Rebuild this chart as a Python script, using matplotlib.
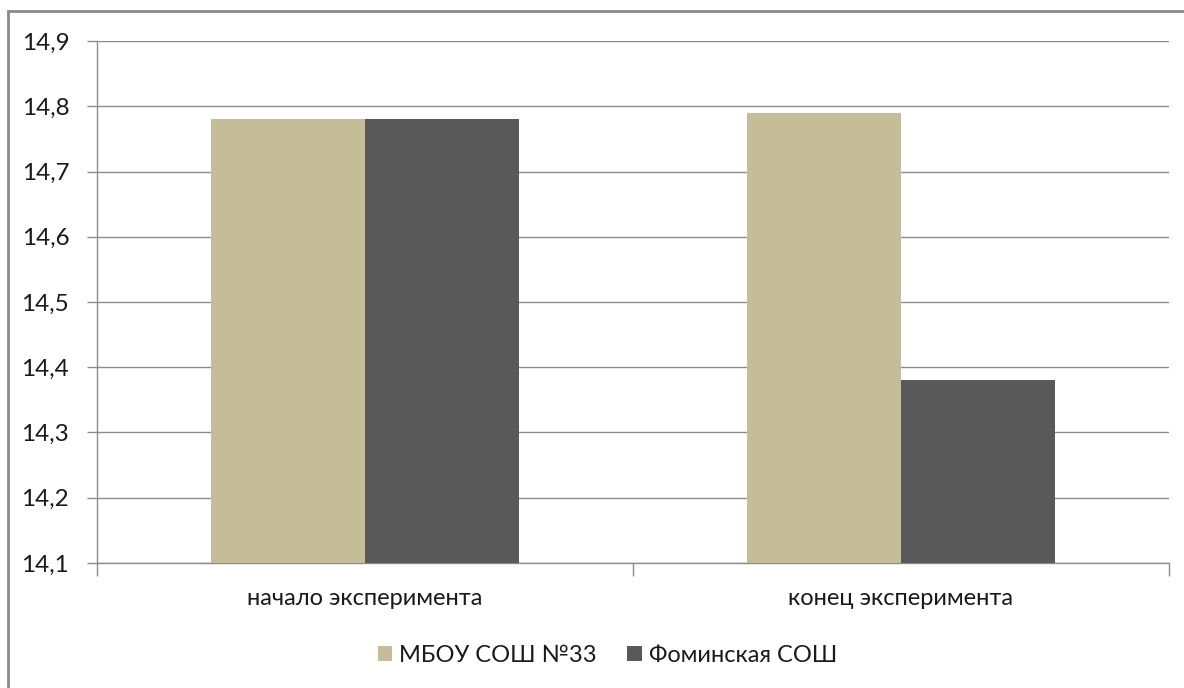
import matplotlib.pyplot as plt
import numpy as np
from matplotlib.patches import Rectangle
from matplotlib.ticker import FixedLocator, FuncFormatter

categories = ["начало эксперимента", "конец эксперимента"]
series_names = ["МБОУ СОШ №33", "Фоминская СОШ"]
school33 = [14.78, 14.79]
fominskaya = [14.78, 14.38]
y_ticks = [14.1, 14.2, 14.3, 14.4, 14.5, 14.6, 14.7, 14.8, 14.9]

colors = ["#c4bd97", "#595959"]
grid_color = "#8c8c8c"
text_color = "#1a1a1a"

plt.rcParams["font.family"] = ["Lato", "DejaVu Sans"]

W, H = 1184, 688
fig = plt.figure(figsize=(W / 100, H / 100), dpi=100)
fig.patch.set_facecolor("white")

# chart-area border (only top and left edges visible in the frame)
fig.patches.append(Rectangle((8 / W, -0.05), 1.1, 1 - 11 / H + 0.05,
                             transform=fig.transFigure, fill=False,
                             edgecolor="#8a8a8a", linewidth=2.0))

left, right, top, bottom = 97, 1169, 41, 563
ax = fig.add_axes([left / W, 1 - bottom / H, (right - left) / W, (bottom - top) / H])

x = np.arange(len(categories))
width = 0.2866
base = y_ticks[0]
ax.bar(x - width / 2, np.array(school33) - base, width, bottom=base,
       color=colors[0], label=series_names[0], zorder=3)
ax.bar(x + width / 2, np.array(fominskaya) - base, width, bottom=base,
       color=colors[1], label=series_names[1], zorder=3)

ax.set_xlim(-0.5, len(categories) - 0.5)
ax.set_ylim(y_ticks[0], y_ticks[-1])
ax.yaxis.set_major_locator(FixedLocator(y_ticks))
ax.yaxis.set_major_formatter(FuncFormatter(lambda v, _: f"{v:.1f}".replace(".", ",")))
ax.grid(axis="y", color=grid_color, linewidth=1.0, zorder=0)

# category labels centred, tick marks on the category boundaries
ax.set_xticks(x)
ax.set_xticklabels(categories)
ax.tick_params(axis="x", length=0, pad=18, labelsize=17, labelcolor=text_color)
ax.set_xticks(np.arange(-0.5, len(categories)), minor=True)
ax.tick_params(axis="x", which="minor", length=9, width=1.0, color=grid_color)
ax.tick_params(axis="y", length=7, width=1.0, color=grid_color, pad=13,
               labelsize=17.5, labelcolor=text_color)

for side in ["top", "right"]:
    ax.spines[side].set_visible(False)
for side in ["left", "bottom"]:
    ax.spines[side].set_color(grid_color)
    ax.spines[side].set_linewidth(1.0)

leg = ax.legend(loc="center", bbox_to_anchor=(0.513, (H - 655) / H),
                bbox_transform=fig.transFigure, ncol=2, frameon=False, fontsize=17,
                handlelength=0.6, handleheight=0.6, handletextpad=0.3,
                columnspacing=1.3)
for t in leg.get_texts():
    t.set_color(text_color)

fig.savefig("out.png", dpi=100, facecolor="white")
